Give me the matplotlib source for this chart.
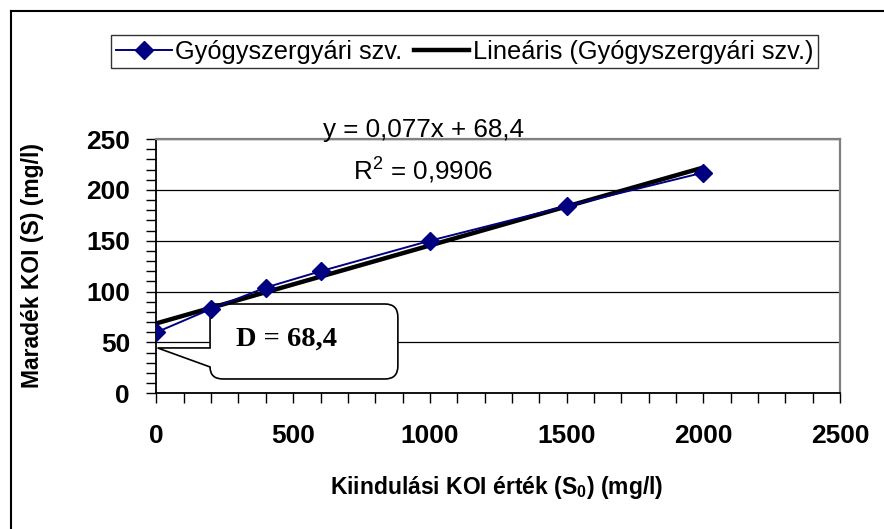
import numpy as np
import matplotlib
matplotlib.use("Agg")
import matplotlib.pyplot as plt
from matplotlib.path import Path
from matplotlib.patches import PathPatch
from matplotlib.lines import Line2D

plt.rcParams['font.family'] = ['Liberation Sans', 'DejaVu Sans']
plt.rcParams['mathtext.fontset'] = 'custom'
plt.rcParams['mathtext.rm'] = 'Liberation Sans'
plt.rcParams['mathtext.bf'] = 'Liberation Sans:bold'

# data
s0 = [0, 200, 400, 600, 1000, 1500, 2000]
s = [60, 83, 104, 120, 150, 184, 217]
series_name = 'Gyógyszergyári szv.'
trend_name = 'Lineáris (Gyógyszergyári szv.)'
eq_text = 'y = 0,077x + 68,4'
r2_text = 'R$^2$ = 0,9906'
callout_text = 'D = 68,4'

fig = plt.figure(figsize=(8.84, 5.29), dpi=100)
ax = fig.add_axes([0.177, 0.2565, 0.7732, 0.4807])

# linear trend line
k, b = np.polyfit(s0, s, 1)
xt = np.array([0, 2000])
ax.plot(xt, k * xt + b, color='black', lw=3.2, zorder=4, label=trend_name)
ax.plot(s0, s, color='#000080', lw=1.4, marker='D', markersize=9,
        markerfacecolor='#000080', markeredgecolor='#000080', zorder=5,
        label=series_name)

ax.set_xlim(0, 2500)
ax.set_ylim(0, 250)
ax.set_xticks(np.arange(0, 2501, 500))
ax.set_xticks(np.arange(0, 2501, 100), minor=True)
ax.set_yticks(np.arange(0, 251, 50))
ax.set_yticks(np.arange(0, 251, 10), minor=True)
ax.yaxis.grid(True, which='major', color='black', lw=0.9)
ax.set_axisbelow(True)
ax.tick_params(which='both', direction='out', length=7, width=1, color='black')
ax.tick_params(axis='x', which='major', pad=15, labelsize=19)
ax.tick_params(axis='y', which='major', pad=12, labelsize=19)
for lab in ax.get_xticklabels() + ax.get_yticklabels():
    lab.set_fontweight('bold')

for side in ['left', 'bottom']:
    ax.spines[side].set_color('black')
    ax.spines[side].set_linewidth(1.3)
for side in ['top', 'right']:
    ax.spines[side].set_color('#808080')
    ax.spines[side].set_linewidth(1.6)

ax.set_xlabel('Kiindulási KOI érték (S$_{\\mathbf{0}}$) (mg/l)',
              fontsize=16.5, fontweight='bold')
ax.set_ylabel('Maradék KOI (S) (mg/l)', fontsize=16.5, fontweight='bold')
ax.xaxis.label.set_va('center')
ax.yaxis.label.set_va('center')
ax.xaxis.set_label_coords(0.498, -0.372)
ax.yaxis.set_label_coords(-0.182, 0.504)

# trendline equation
ax.text(975, 252, eq_text, fontsize=18.7, ha='center', va='baseline',
        zorder=6, clip_on=False)
ax.text(975, 211, r2_text, fontsize=18.7, ha='center', va='baseline', zorder=6)

# callout box
x0, x1, y0, y1 = 196, 883, 14.1, 87.8
rx, ry = 47, 12.8
tip = (4, 44.6)
verts = [(x0, y1), (x1 - rx, y1), (x1, y1), (x1, y1 - ry),
         (x1, y0 + ry), (x1, y0), (x1 - rx, y0),
         (x0 + rx, y0), (x0, y0), (x0, 25.9),
         tip, (x0, 44.6), (x0, y1)]
codes = [Path.MOVETO, Path.LINETO, Path.CURVE3, Path.CURVE3,
         Path.LINETO, Path.CURVE3, Path.CURVE3,
         Path.LINETO, Path.CURVE3, Path.CURVE3,
         Path.LINETO, Path.LINETO, Path.CLOSEPOLY]
ax.add_patch(PathPatch(Path(verts, codes), facecolor='white',
                       edgecolor='black', lw=1.2, zorder=2.5))
ax.text(475, 46.5, callout_text, fontsize=20.5, fontweight='bold',
        family=['Liberation Serif', 'DejaVu Serif'], ha='center',
        va='baseline', zorder=6)

# legend
h, l = ax.get_legend_handles_labels()
leg = fig.legend(h[::-1], l[::-1], loc='center', ncol=2,
                 bbox_to_anchor=(0.5255, 1 - 51.5 / 529), fontsize=18.3,
                 frameon=True, fancybox=False, edgecolor='black',
                 handlelength=2.2, handletextpad=0.12, columnspacing=0.45,
                 borderpad=0.18, borderaxespad=0)
leg.get_frame().set_linewidth(1.0)

# outer frame of the chart area
fig.add_artist(Line2D([11 / 884, 11 / 884], [0, 1 - 11 / 529],
                      color='black', lw=1.5, transform=fig.transFigure))
fig.add_artist(Line2D([11 / 884, 1], [1 - 11 / 529, 1 - 11 / 529],
                      color='black', lw=1.5, transform=fig.transFigure))

fig.savefig('out.png', dpi=100, facecolor='white')
